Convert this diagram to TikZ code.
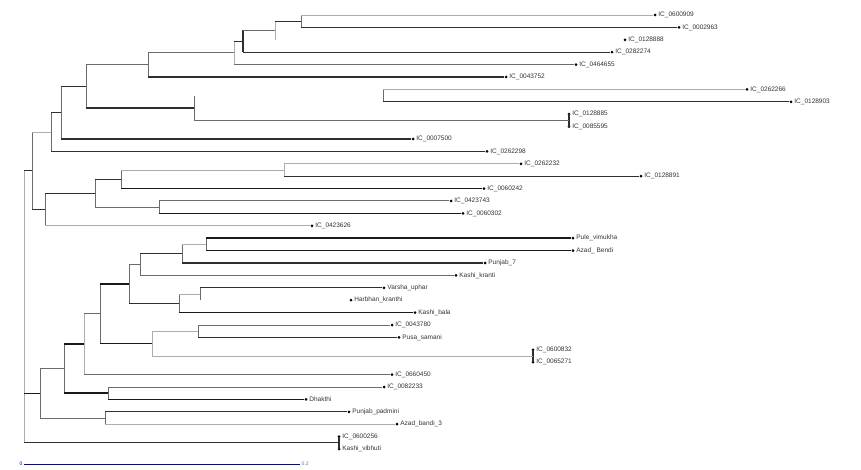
\documentclass[tikz,border=0pt]{standalone}
\usepackage{fontspec}
\setmainfont{Liberation Sans}
\usetikzlibrary{positioning}
\usetikzlibrary{calc}
\colorlet{light colour}{black!32}
\colorlet{mid colour}{black!58}
\colorlet{dark colour}{black!82}
\colorlet{scale colour}{blue!75!black}
\tikzset{
    % Branch weights, lightest to heaviest
    light/.style={draw=light colour, line width=0.8pt},
    mid/.style={draw=mid colour, line width=1pt},
    dark/.style={draw=dark colour, line width=1.1pt},
    heavy/.style={draw=black!90, line width=1.7pt},
%
    % Leaf markers and their names
    dot/.style={circle, fill=black, inner sep=0, minimum size=3pt},
    leaf label/.style={font=\fontsize{6.5}{7}\selectfont, text=black!80, inner sep=0.5pt},
}

\begin{document}
\begin{tikzpicture}[x=1pt, y=-1pt]

% Fix the extent of the picture
\useasboundingbox (0,0) rectangle (861,470);

% Leaves
\foreach \i/\x/\t in {
    1/655/IC\_0600909, 2/679/IC\_0002963, 3/625/IC\_0128888,
    4/612/IC\_0282274, 5/576/IC\_0464655, 6/506/IC\_0043752,
    7/747/IC\_0262266, 8/791/IC\_0128903, 9/569/IC\_0128885,
    10/569/IC\_0085595, 11/413/IC\_0007500, 12/487/IC\_0262298,
    13/521/IC\_0262232, 14/641/IC\_0128891, 15/484/IC\_0060242,
    16/451/IC\_0423743, 17/463/IC\_0060302, 18/312/IC\_0423626,
    19/573/Pule\_vimukha, 20/573/Azad\_ Bendi, 21/485/Punjab\_7,
    22/456/Kashi\_kranti, 23/384/Varsha\_uphar, 24/351/Harbhan\_kranthi,
    25/415/Kashi\_bala, 26/392/IC\_0043780, 27/399/Pusa\_samani,
    28/533/IC\_0600832, 29/533/IC\_0065271, 30/392/IC\_0660450,
    31/384/IC\_0082233, 32/306/Dhakthi, 33/349/Punjab\_padmini,
    34/397/Azad\_bandi\_3, 35/339/IC\_0600256, 36/339/Kashi\_vibhuti} {
    \node [dot] (l\i) at (\x, {15+(\i-1)*12.4}) {};
    \node [leaf label, right=1pt of l\i] {\t}; }

% Internal nodes
\foreach \n/\x/\y in {
    n1/301/21.2, n2/275/30.5, n3/243/41.35, n4/234/53, n5/148/65,
    n6/383/95.6, n7/569/120.4, n8/194/108, n9/86/86.5, n10/61/112.75,
    n11/51/132, n12/284/170, n13/121/179.3, n14/159/207.2, n15/95/193.25,
    n16/45/209.5, n17/32/170.8, n18/206/244.4, n19/182/253.7,
    n20/140/264.5, n21/200/294, n22/179/303.3, n23/129/283.9,
    n24/198/331.2, n25/533/356, n26/152/343.6, n27/100/313.8,
    n28/84/344.2, n29/108/393.2, n30/64/368.7, n31/105/418,
    n32/40/393.4, n33/339/442.8, root/24/306.8}
    \coordinate (\n) at (\x,\y);

% Vertical bars joining the children of each node
\foreach \n/\a/\b/\s in {
    n1/l1/l2/mid, n2/n1/l3/light, n3/n2/l4/dark, n4/n3/l5/light,
    n5/n4/l6/mid, n6/l7/l8/mid, n7/l9/l10/dark, n8/n6/n7/mid,
    n9/n5/n8/mid, n10/n9/l11/mid, n11/n10/l12/mid, n12/l13/l14/light,
    n13/n12/l15/mid, n14/l16/l17/mid, n15/n13/n14/mid, n16/n15/l18/mid,
    n17/n11/n16/mid, n18/l19/l20/mid, n19/n18/l21/mid, n20/n19/l22/mid,
    n21/l23/l24/mid, n22/n21/l25/mid, n23/n20/n22/mid, n24/l26/l27/mid,
    n25/l28/l29/dark, n26/n24/n25/light, n27/n23/n26/mid,
    n28/n27/l30/light, n29/l31/l32/mid, n30/n28/n29/mid,
    n31/l33/l34/mid, n32/n30/n31/mid, n33/l35/l36/dark,
    root/n17/n33/light}
    \draw [\s] (\n |- \a) -- (\n |- \b);

% Horizontal branches out to each child
\foreach \p/\c/\s in {
    n1/l1/light, n1/l2/dark, n2/n1/dark, n3/n2/mid, n3/l4/dark,
    n4/n3/dark, n4/l5/mid, n5/n4/mid, n5/l6/dark, n6/l7/light,
    n6/l8/dark, n8/n7/mid, n9/n5/mid, n9/n8/dark, n10/n9/dark,
    n10/l11/dark, n11/n10/dark, n11/l12/dark, n17/n11/light,
    n17/n16/dark, n16/n15/dark, n16/l18/light, n15/n13/dark,
    n15/n14/mid, n13/n12/light, n13/l15/heavy, n12/l13/light,
    n12/l14/dark, n14/l16/mid, n14/l17/heavy, root/n17/dark,
    root/n32/heavy, root/n33/dark, n32/n30/mid, n32/n31/mid,
    n31/l33/dark, n31/l34/light, n30/n28/heavy, n30/n29/heavy,
    n29/l31/mid, n29/l32/heavy, n28/n27/mid, n28/l30/mid,
    n27/n23/heavy, n27/n26/heavy, n26/n24/light, n26/n25/light,
    n24/l26/mid, n24/l27/dark, n23/n20/mid, n23/n22/dark,
    n20/n19/dark, n20/l22/mid, n19/n18/light, n19/l21/dark,
    n18/l19/heavy, n18/l20/heavy, n22/n21/light, n22/l25/heavy,
    n21/l23/dark}
    \draw [\s] (\p |- \c) -- (\c);

% Scale bar
\coordinate (sb start) at (24,464);
\coordinate (sb end) at (300,464);
\draw [scale colour, line width=0.9pt] (sb start) -- (sb end);
\node [font=\fontsize{5}{6}\selectfont, text=scale colour, left=1pt of sb start,
    inner sep=0.5pt] (sb zero) {0};
\node [font=\fontsize{5}{6}\selectfont, text=scale colour!60, right=1pt of sb end,
    inner sep=0.5pt] (sb max) {0.2};

\end{tikzpicture}
\end{document}
